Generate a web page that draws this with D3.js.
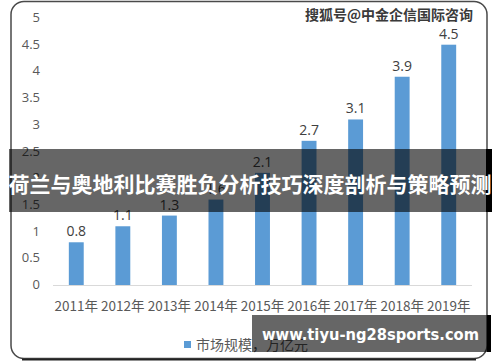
<!DOCTYPE html>
<html>
<head>
<meta charset="utf-8">
<script src="https://cdn.jsdelivr.net/npm/d3@7"></script>
<style>
  body { margin: 0; background: #fff; }
  svg { display: block; }
</style>
</head>
<body>
<div id="chart"></div>
<script>
// chart data
var years = ["2011年", "2012年", "2013年", "2014年", "2015年", "2016年", "2017年", "2018年", "2019年"];
var values = [0.8, 1.1, 1.3, 1.6, 2.1, 2.7, 3.1, 3.9, 4.5];
var yTicks = [0, 0.5, 1, 1.5, 2, 2.5, 3, 3.5, 4, 4.5, 5];
var seriesName = "市场规模，万亿元";

var W = 500, H = 362;
var svg = d3.select("#chart").append("svg").attr("width", W).attr("height", H);
var cnFont = "'Noto Sans CJK SC', 'DejaVu Sans', sans-serif";

// outer rounded frame
svg.append("rect")
  .attr("x", 11).attr("y", 1.5).attr("width", 476).attr("height", 357)
  .attr("rx", 13).attr("ry", 13)
  .attr("fill", "#fff").attr("stroke", "#4a4a4a").attr("stroke-width", 1.5);
svg.append("line")
  .attr("x1", 22).attr("x2", 476).attr("y1", 359.5).attr("y2", 359.5)
  .attr("stroke", "#222").attr("stroke-width", 2);

var x = d3.scaleBand().domain(years).range([53, 472]).paddingInner(0.68).paddingOuter(0.34);
var y = d3.scaleLinear().domain([0, 5]).range([285, 18]);

// y tick labels
svg.append("g").selectAll("text").data(yTicks).join("text")
  .attr("x", 40).attr("y", function(d) { return y(d) + 4; })
  .attr("text-anchor", "end")
  .style("font-family", "'Open Sans', sans-serif").style("font-size", "13px")
  .attr("fill", "#595959")
  .text(function(d) { return d; });

// baseline
svg.append("line")
  .attr("x1", 53).attr("x2", 472).attr("y1", y(0) + 0.5).attr("y2", y(0) + 0.5)
  .attr("stroke", "#d9d9d9").attr("stroke-width", 1);

// bars
svg.append("g").selectAll("rect").data(values).join("rect")
  .attr("x", function(d, i) { return x(years[i]); })
  .attr("width", x.bandwidth())
  .attr("y", function(d) { return y(d); })
  .attr("height", function(d) { return y(0) - y(d); })
  .attr("fill", "#5b9bd5");

// value labels
svg.append("g").selectAll("text").data(values).join("text")
  .attr("x", function(d, i) { return x(years[i]) + x.bandwidth() / 2; })
  .attr("y", function(d) { return y(d) - 6; })
  .attr("text-anchor", "middle")
  .style("font-family", "'Open Sans', sans-serif").style("font-size", "14px")
  .attr("fill", "#404040")
  .text(function(d) { return d.toFixed(1); });

// category labels
svg.append("g").selectAll("text").data(years).join("text")
  .attr("x", function(d) { return x(d) + x.bandwidth() / 2; })
  .attr("y", 311)
  .attr("text-anchor", "middle")
  .style("font-family", cnFont).style("font-size", "13.5px")
  .attr("fill", "#595959")
  .text(function(d) { return d; });

// legend
svg.append("rect").attr("x", 184).attr("y", 341).attr("width", 7).attr("height", 7).attr("fill", "#5b9bd5");
svg.append("text").attr("x", 196).attr("y", 350)
  .style("font-family", cnFont).style("font-size", "14px")
  .attr("fill", "#595959").text(seriesName);

// source watermark top right
svg.append("text").attr("x", 473).attr("y", 20).attr("text-anchor", "end")
  .style("font-family", cnFont).style("font-size", "14px").style("font-weight", "bold")
  .attr("fill", "#3a3a3a").text("搜狐号@中金企信国际咨询");

// title banner overlay
svg.append("rect").attr("x", 9).attr("y", 149).attr("width", 477).attr("height", 63)
  .attr("fill", "rgba(0,0,0,0.6)");
svg.append("rect").attr("x", 486).attr("y", 149).attr("width", 6).attr("height", 63).attr("fill", "#000");
svg.append("text").attr("x", 250).attr("y", 192).attr("text-anchor", "middle")
  .style("font-family", cnFont).style("font-size", "21px").style("font-weight", "bold")
  .attr("fill", "#fff").text("荷兰与奥地利比赛胜负分析技巧深度剖析与策略预测");

// site banner bottom right
svg.append("rect").attr("x", 252).attr("y", 315).attr("width", 235).attr("height", 37)
  .attr("fill", "rgba(0,0,0,0.6)");
svg.append("rect").attr("x", 487).attr("y", 315).attr("width", 4).attr("height", 37).attr("fill", "#000");
svg.append("text").attr("x", 262).attr("y", 340)
  .attr("textLength", 217).attr("lengthAdjust", "spacingAndGlyphs")
  .style("font-family", "'DejaVu Sans', sans-serif").style("font-size", "15px").style("font-weight", "bold")
  .attr("fill", "#fff").text("www.tiyu-ng28sports.com");
</script>
</body>
</html>
